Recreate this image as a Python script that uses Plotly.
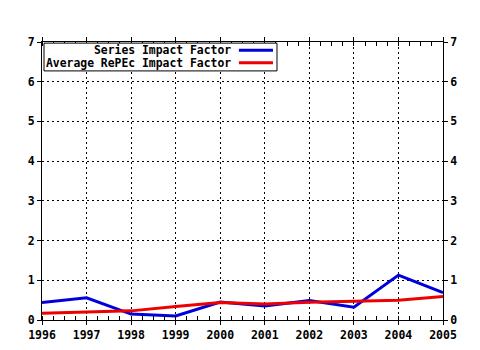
import plotly.graph_objects as go

years = [1996, 1997, 1998, 1999, 2000, 2001, 2002, 2003, 2004, 2005]
series_if = [0.44, 0.56, 0.15, 0.10, 0.45, 0.35, 0.49, 0.32, 1.13, 0.69]
average_if = [0.17, 0.20, 0.23, 0.34, 0.44, 0.40, 0.45, 0.47, 0.50, 0.59]
names = ["Series Impact Factor", "Average RePEc Impact Factor"]
colors = ["#0000DD", "#EE0000"]

FONT = dict(family="DejaVu Sans Mono", size=11.5, color="black", weight="bold")
LFONT = dict(family="DejaVu Sans Mono", size=11.4, color="black", weight="bold")

fig = go.Figure()
fig.add_trace(go.Scatter(x=years, y=series_if, mode="lines", name=names[0],
                         line=dict(color=colors[0], width=3), showlegend=False))
fig.add_trace(go.Scatter(x=years, y=average_if, mode="lines", name=names[1],
                         line=dict(color=colors[1], width=3), showlegend=False))
# invisible trace to activate right axis
fig.add_trace(go.Scatter(x=years, y=average_if, mode="lines", yaxis="y2",
                         line=dict(color="rgba(0,0,0,0)", width=0),
                         hoverinfo="skip", showlegend=False))

axis_common = dict(showline=True, linecolor="black", linewidth=1,
                   gridcolor="black", griddash="2px,3px", gridwidth=1,
                   tickfont=FONT, zeroline=False, ticks="outside",
                   tickcolor="black", ticklen=4, automargin=False)

fig.update_layout(
    width=480, height=350,
    margin=dict(l=42, r=37, t=42, b=30),
    paper_bgcolor="white", plot_bgcolor="white",
    xaxis=dict(range=[1996, 2005], dtick=1, tick0=1996, mirror="allticks",
               minor=dict(dtick=0.25, ticks="inside", ticklen=3, tickcolor="black", showgrid=False),
               **axis_common),
    yaxis=dict(range=[0, 7], dtick=1, mirror=True, **axis_common),
    yaxis2=dict(range=[0, 7], dtick=1, overlaying="y", side="right",
                showgrid=False, showline=True, linecolor="black", zeroline=False,
                ticks="outside", ticklen=4, tickcolor="black", tickfont=FONT,
                automargin=False),
)

# legend box
fig.add_shape(type="rect", xref="paper", yref="paper",
              x0=0.005, x1=0.586, y0=0.896, y1=0.996,
              line=dict(color="black", width=1), fillcolor="white", layer="above")
legend_y = [0.970, 0.925]
for name, col, yy in zip(names, colors, legend_y):
    fig.add_annotation(xref="paper", yref="paper", x=0.474, y=yy, text=name,
                       showarrow=False, xanchor="right", yanchor="middle",
                       font=LFONT, borderpad=0)
    fig.add_shape(type="line", xref="paper", yref="paper",
                  x0=0.491, x1=0.576, y0=yy, y1=yy,
                  line=dict(color=col, width=3), layer="above")

fig.write_html("out.html")
